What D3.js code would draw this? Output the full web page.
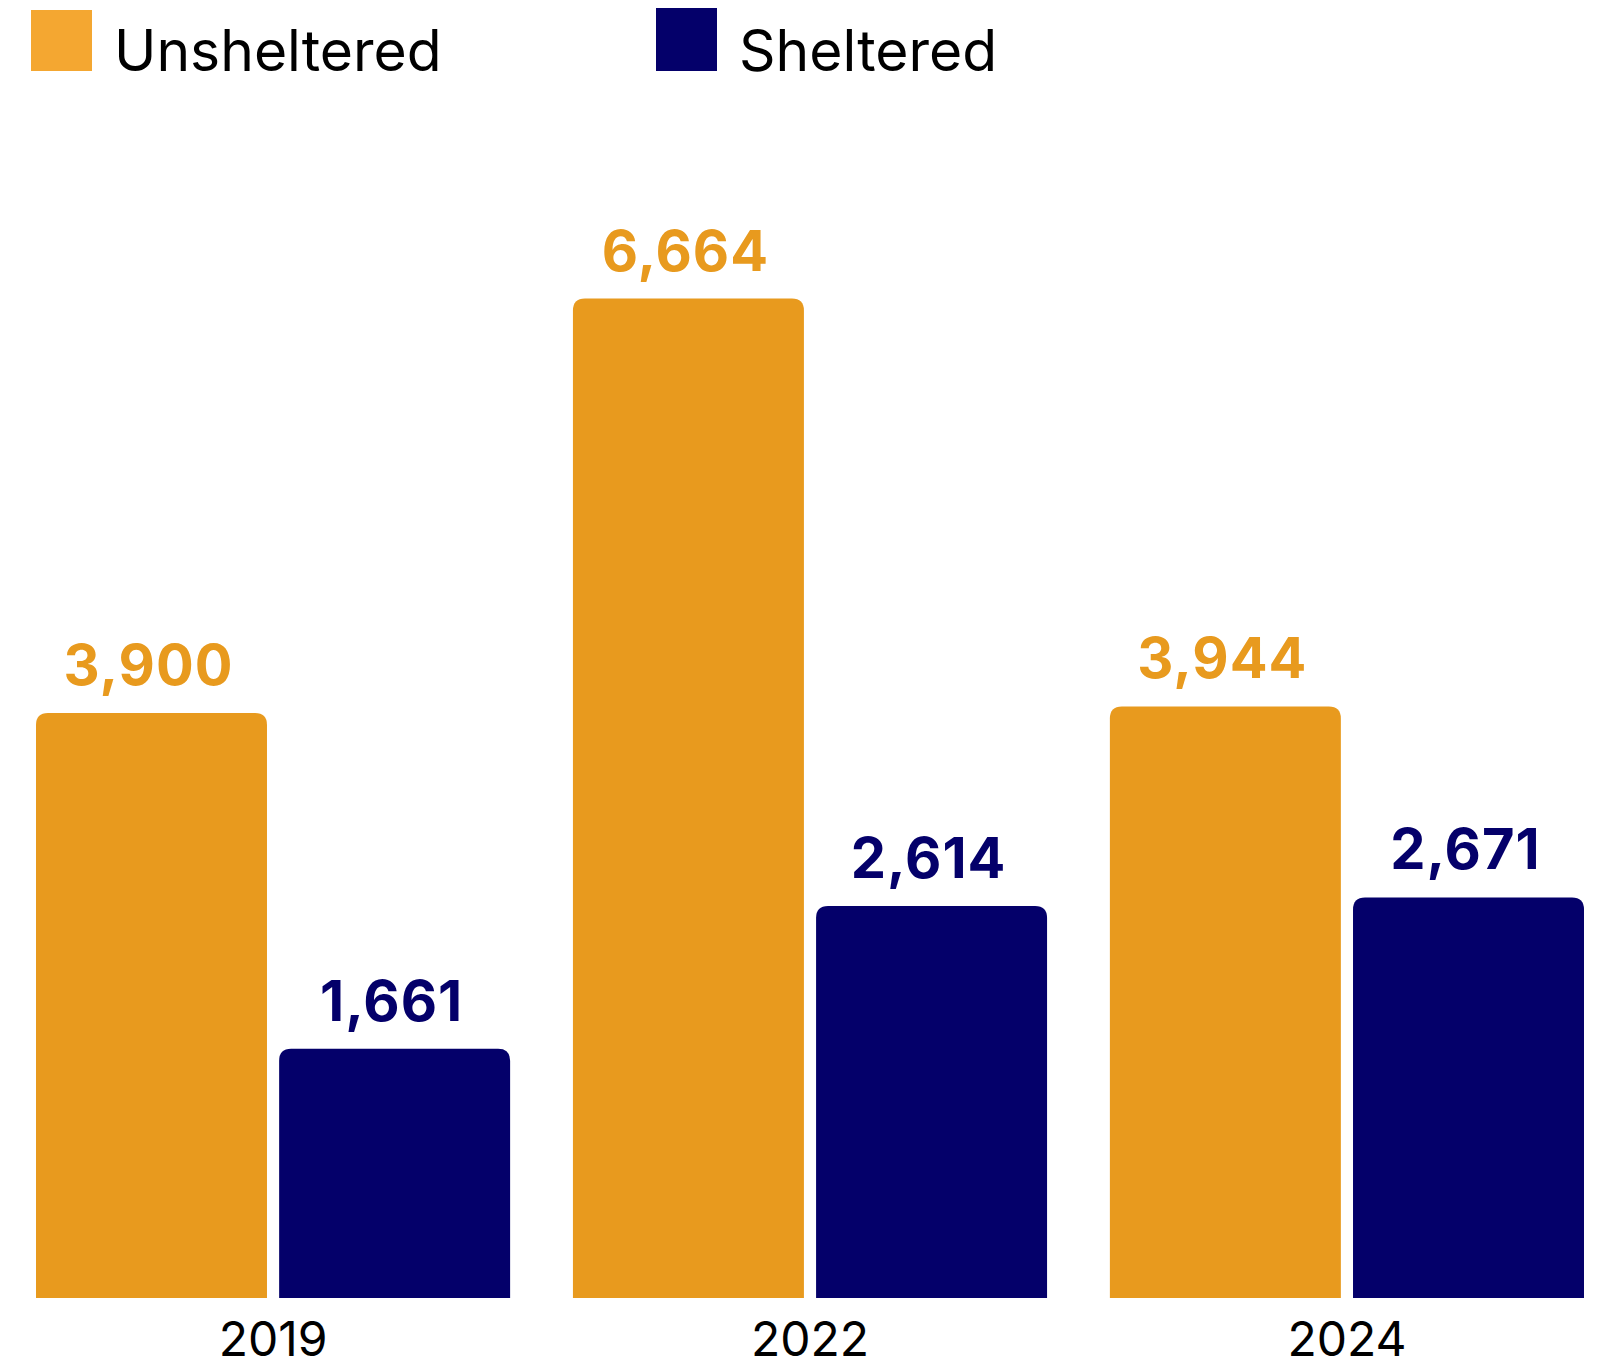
<!DOCTYPE html>
<html>
<head>
<meta charset="utf-8">
<script src="https://cdn.jsdelivr.net/npm/d3@7/dist/d3.min.js"></script>
<style>
  html, body { margin: 0; padding: 0; background: #ffffff; }
  svg { display: block; }
</style>
</head>
<body>
<svg id="chart" width="1603" height="1369"></svg>
<script>
// ---- data ----
const years = ["2019", "2022", "2024"];
const seriesNames = ["Unsheltered", "Sheltered"];
const unsheltered = [3900, 6664, 3944];
const sheltered = [1661, 2614, 2671];

// ---- styles ----
const barColors = ["#E89A1E", "#04006A"];
const legendColors = ["#F4A731", "#04006A"];
const regularFont = "Inter, 'Open Sans', sans-serif";
const boldFont = "Inter, 'Open Sans', sans-serif";

const svg = d3.select("#chart");
const baseY = 1298, topY = 298.5;

const values = [unsheltered, sheltered];
const rows = years.map((y, i) => ({ year: y, vals: seriesNames.map((s, j) => ({ series: s, idx: j, value: values[j][i] })) }));

const x0 = d3.scaleBand().domain(years).range([36, 1584]).paddingInner(0.117).paddingOuter(0);
const x1 = d3.scaleBand().domain(seriesNames).range([0, x0.bandwidth()]).paddingInner(0.05).paddingOuter(0);
const y = d3.scaleLinear().domain([0, d3.max(unsheltered)]).range([baseY, topY]);

function topRounded(x, yTop, w, h, r) {
  return `M${x},${yTop + h}V${yTop + r}Q${x},${yTop} ${x + r},${yTop}H${x + w - r}Q${x + w},${yTop} ${x + w},${yTop + r}V${yTop + h}Z`;
}

const groups = svg.selectAll("g.grp").data(rows).join("g")
  .attr("class", "grp")
  .attr("transform", d => `translate(${x0(d.year)},0)`);

groups.selectAll("path.bar").data(d => d.vals).join("path")
  .attr("class", "bar")
  .attr("fill", d => barColors[d.idx])
  .attr("d", d => topRounded(x1(d.series), y(d.value), x1.bandwidth(), baseY - y(d.value), 12));

groups.selectAll("text.val").data(d => d.vals).join("text")
  .attr("class", "val")
  .attr("x", d => x1(d.series) + x1.bandwidth() / 2 - 3)
  .attr("y", d => y(d.value) - 28)
  .attr("text-anchor", "middle")
  .attr("fill", d => barColors[d.idx])
  .style("font-family", boldFont)
  .style("font-weight", 700)
  .style("font-size", "56px")
  .style("letter-spacing", "1px")
  .text(d => d3.format(",")(d.value));

// x axis labels
const xAxis = d3.axisBottom(x0).tickSize(0).tickPadding(0);
const ax = svg.append("g").attr("transform", `translate(0,${baseY})`).call(xAxis);
ax.select(".domain").remove();
ax.selectAll("text")
  .attr("dy", null)
  .attr("y", 58)
  .attr("fill", "#000")
  .style("font-family", regularFont)
  .style("font-size", "48px")
  .style("font-weight", 400);

// legend
const legend = svg.selectAll("g.leg").data(seriesNames).join("g")
  .attr("class", "leg")
  .attr("transform", (d, i) => `translate(${[31, 656][i]},0)`);
legend.append("rect")
  .attr("x", 0).attr("y", (d, i) => [10, 8][i])
  .attr("width", 61).attr("height", (d, i) => [61, 63][i])
  .attr("fill", (d, i) => legendColors[i]);
legend.append("text")
  .attr("x", 83)
  .attr("y", 71)
  .attr("fill", "#000")
  .style("font-family", regularFont)
  .style("font-size", "57px")
  .style("font-weight", 400)
  .text(d => d);
</script>
</body>
</html>
